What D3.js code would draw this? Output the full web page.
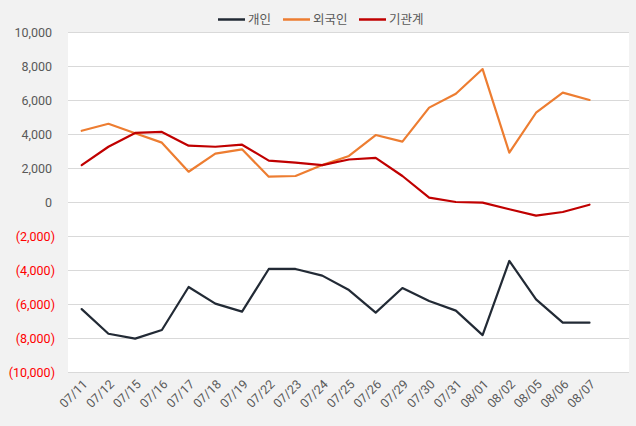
<!DOCTYPE html>
<html><head><meta charset="utf-8">
<script src="https://cdn.jsdelivr.net/npm/d3@7/dist/d3.min.js"></script>
<style>
html,body{margin:0;padding:0;background:#f2f2f2;}
svg{display:block;}
text{font-family:Roboto,"Noto Sans CJK KR",sans-serif;}
</style></head>
<body>
<svg id="c" width="636" height="426"></svg>
<script>
const categories = ["07/11","07/12","07/15","07/16","07/17","07/18","07/19","07/22","07/23","07/24","07/25","07/26","07/29","07/30","07/31","08/01","08/02","08/05","08/06","08/07"];
const individual = [-6270,-7720,-8010,-7500,-4970,-5950,-6420,-3910,-3910,-4300,-5150,-6480,-5030,-5790,-6360,-7800,-3440,-5700,-7070,-7070];
const foreign = [4220,4630,4070,3520,1810,2870,3130,1520,1560,2200,2740,3970,3580,5580,6400,7850,2930,5280,6460,6030];
const institution = [2200,3280,4090,4150,3340,3280,3400,2460,2340,2200,2530,2620,1560,285,30,-10,-400,-775,-560,-130];
const seriesNames = ["개인","외국인","기관계"];
const yTicks = [-10000,-8000,-6000,-4000,-2000,0,2000,4000,6000,8000,10000];

const colors = ["#222a35","#ed7d31","#c00000"];
const series = [individual, foreign, institution];

const svg = d3.select("#c");
const W = 636, H = 426;
const plot = {l:68, r:629, t:32, b:372};

svg.append("rect").attr("x",0).attr("y",0).attr("width",W).attr("height",H).attr("fill","#f2f2f2");
svg.append("rect").attr("x",plot.l).attr("y",plot.t).attr("width",plot.r-plot.l).attr("height",plot.b-plot.t).attr("fill","#ffffff");

const y = d3.scaleLinear().domain([-10000,10000]).range([plot.b+0.5, plot.t+0.5]);
const x = d3.scalePoint().domain(categories).range([81.7, 589.5]);

// gridlines
svg.append("g").selectAll("line").data(yTicks).join("line")
  .attr("x1",plot.l).attr("x2",plot.r)
  .attr("y1",d=>y(d)).attr("y2",d=>y(d))
  .attr("stroke","#d9d9d9").attr("stroke-width",1);

// y labels
const fmt = d3.format(",");
svg.append("g").selectAll("text").data(yTicks).join("text")
  .attr("x",d=> d<0 ? 55 : 52)
  .attr("y",d=>y(d))
  .attr("dy","0.35em")
  .attr("text-anchor","end")
  .attr("font-size",12.5)
  .attr("fill",d=> d<0 ? "#ff0000" : "#595959")
  .text(d=> d<0 ? "(" + fmt(-d) + ")" : fmt(d));

// x labels
svg.append("g").selectAll("text").data(categories).join("text")
  .attr("transform",d=>`translate(${x(d)+3.5},${plot.b+10}) rotate(-45)`)
  .attr("text-anchor","end")
  .attr("dy","0.35em")
  .attr("font-size",12.5)
  .attr("fill","#595959")
  .text(d=>d);

// lines
const line = d3.line().x((d,i)=>x(categories[i])).y(d=>y(d));
series.forEach((s,i)=>{
  svg.append("path").datum(s).attr("d",line)
    .attr("fill","none").attr("stroke",colors[i]).attr("stroke-width",2.2)
    .attr("stroke-linejoin","round").attr("stroke-linecap","round");
});

// legend
const legX = [218, 283, 359];
const lg = svg.append("g");
seriesNames.forEach((n,i)=>{
  lg.append("line").attr("x1",legX[i]).attr("x2",legX[i]+27).attr("y1",19.5).attr("y2",19.5)
    .attr("stroke",colors[i]).attr("stroke-width",2.5);
  lg.append("text").attr("x",legX[i]+30).attr("y",19.5).attr("dy","0.35em")
    .attr("font-size",12.5).attr("fill","#595959").text(n);
});
</script>
</body></html>
